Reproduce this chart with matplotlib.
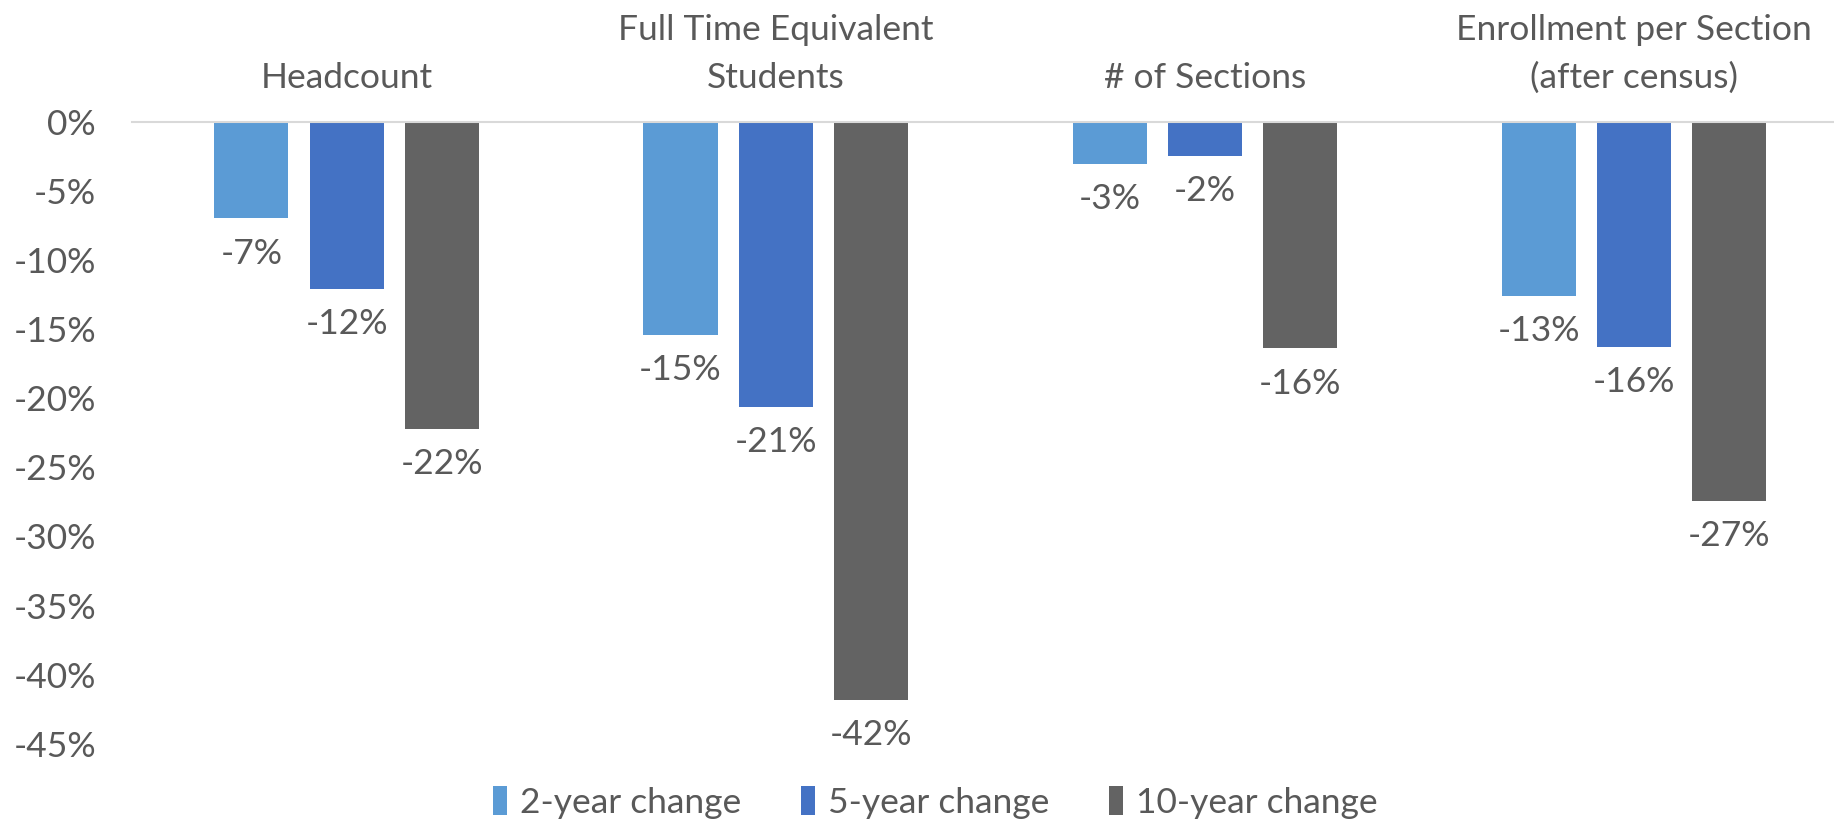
import matplotlib
matplotlib.use("Agg")
import matplotlib.pyplot as plt
import numpy as np

plt.rcParams['font.family'] = ['Lato', 'DejaVu Sans']

categories = ["Headcount", "Full Time Equivalent\nStudents", "# of Sections",
              "Enrollment per Section\n(after census)"]
series = ["2-year change", "5-year change", "10-year change"]
two_year = [-7.0, -15.4, -3.05, -12.6]
five_year = [-12.1, -20.6, -2.46, -16.3]
ten_year = [-22.2, -41.8, -16.4, -27.4]
colors = ["#5B9BD5", "#4472C4", "#636363"]
text_color = "#595959"
fs = 25.5

fig = plt.figure(figsize=(18.34, 8.22), dpi=100)
ax = fig.add_axes([0.072, 0.095, 0.936, 0.757])

x = np.arange(len(categories))
width = 0.173
step = 0.222
for i, (name, vals) in enumerate(zip(series, [two_year, five_year, ten_year])):
    pos = x + (i - 1) * step
    ax.bar(pos, vals, width, color=colors[i], label=name, zorder=2)
    for px, v in zip(pos, vals):
        ax.annotate(f"{round(v):d}%", (px, v), xytext=(0, -14), textcoords="offset points",
                    ha="center", va="top", fontsize=fs, color=text_color,
                    annotation_clip=False)

ax.set_xlim(-0.5, len(categories) - 0.5)
ax.set_ylim(-45, 0)
ax.set_yticks(np.arange(-45, 1, 5))
ax.set_yticklabels([f"{t}%" for t in np.arange(-45, 1, 5)])
ax.tick_params(axis="y", length=0, labelsize=fs, labelcolor=text_color, pad=26)
ax.tick_params(axis="x", length=0)
ax.set_xticks([])
for s in ["left", "right", "bottom"]:
    ax.spines[s].set_visible(False)
ax.spines["top"].set_color("#D9D9D9")
ax.spines["top"].set_linewidth(1.5)

for xi, c in zip(x, categories):
    ax.annotate(c, (xi, 0), xytext=(0, 20), textcoords="offset points",
                ha="center", va="bottom", fontsize=fs, color=text_color,
                linespacing=1.6, annotation_clip=False)

leg = fig.legend(loc="center", bbox_to_anchor=(0.51, 0.024), ncol=3, frameon=False,
                 fontsize=fs, handlelength=0.4, handleheight=0.9, handletextpad=0.35,
                 columnspacing=1.7, labelcolor=text_color)

fig.savefig("out.png", dpi=100, facecolor="white")
